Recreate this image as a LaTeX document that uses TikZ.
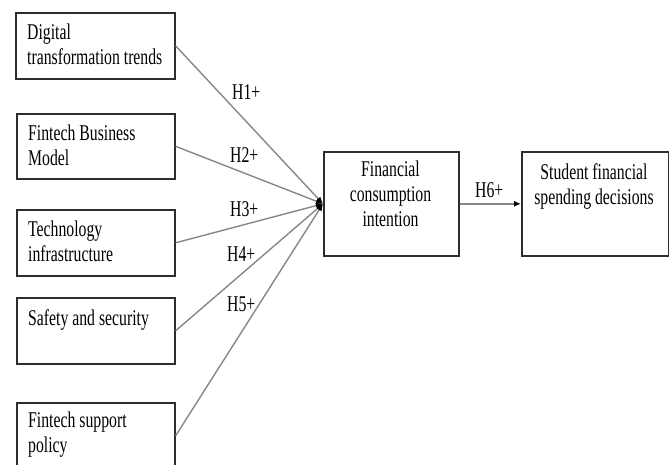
\documentclass[tikz,border=0pt]{standalone}
\usepackage{fontspec}
\newfontfamily\tfont[FakeStretch=0.7]{Liberation Serif}
\usetikzlibrary{arrows.meta}
\definecolor{boxline}{RGB}{45,45,45}
\definecolor{conn}{RGB}{135,135,135}
\tikzset{
  box/.style={draw=boxline, line width=1.6pt, inner sep=0pt},
  txt/.style={inner sep=0pt, font=\tfont\fontsize{22.5}{25}\selectfont, text=black},
  lbl/.style={inner sep=0pt, anchor=base west, font=\tfont\fontsize{22.5}{25}\selectfont, text=black},
  conn/.style={draw=conn, line width=1.4pt, -{Latex[black,length=7pt,width=6pt]}}
}
\begin{document}
\begin{tikzpicture}[x=1pt,y=-1pt]
\useasboundingbox (0,0) rectangle (669,464);
\clip (0,0) rectangle (669,464);
% boxes
\node[box, minimum width=159pt, minimum height=66pt, anchor=north west] (b1) at (15,12) {};
\node[box, minimum width=158pt, minimum height=65pt, anchor=north west] (b2) at (16,113) {};
\node[box, minimum width=158pt, minimum height=66pt, anchor=north west] (b3) at (16,209) {};
\node[box, minimum width=158pt, minimum height=66pt, anchor=north west] (b4) at (16,297) {};
\node[box, minimum width=158pt, minimum height=66pt, anchor=north west] (b5) at (16,402) {};
\node[box, minimum width=135pt, minimum height=104pt, anchor=north west] (fc) at (323,151) {};
\node[box, minimum width=147pt, minimum height=104pt, anchor=north west] (sd) at (521,151) {};
% texts
\node[txt, anchor=base west] (t1) at (27,39) {\begin{tabular}[t]{@{}l@{}}Digital\\transformation trends\end{tabular}};
\node[txt, anchor=base west] (t2) at (28,140) {\begin{tabular}[t]{@{}l@{}}Fintech Business\\Model\end{tabular}};
\node[txt, anchor=base west] (t3) at (28,236) {\begin{tabular}[t]{@{}l@{}}Technology\\infrastructure\end{tabular}};
\node[txt, anchor=base west] (t4) at (28,325) {Safety and security};
\node[txt, anchor=base west] (t5) at (28,427) {\begin{tabular}[t]{@{}l@{}}Fintech support\\policy\end{tabular}};
\node[txt, anchor=base] (tc) at (390.5,176) {\begin{tabular}[t]{@{}c@{}}Financial\\consumption\\intention\end{tabular}};
\node[txt, anchor=base] (ts) at (594,179) {\begin{tabular}[t]{@{}c@{}}Student financial\\spending decisions\end{tabular}};
% connectors
\draw[conn] (b1.east) -- (fc.west);
\draw[conn] (b2.east) -- (fc.west);
\draw[conn] (b3.east) -- (fc.west);
\draw[conn] (b4.east) -- (fc.west);
\draw[conn] (b5.east) -- (fc.west);
\draw[conn] (fc.east) -- (sd.west);
% labels
\node[lbl] (h1) at (232,99) {H1+};
\node[lbl] (h2) at (230,162) {H2+};
\node[lbl] (h3) at (230,216) {H3+};
\node[lbl] (h4) at (227,261) {H4+};
\node[lbl] (h5) at (227,311) {H5+};
\node[lbl] (h6) at (475,197) {H6+};
\end{tikzpicture}
\end{document}
